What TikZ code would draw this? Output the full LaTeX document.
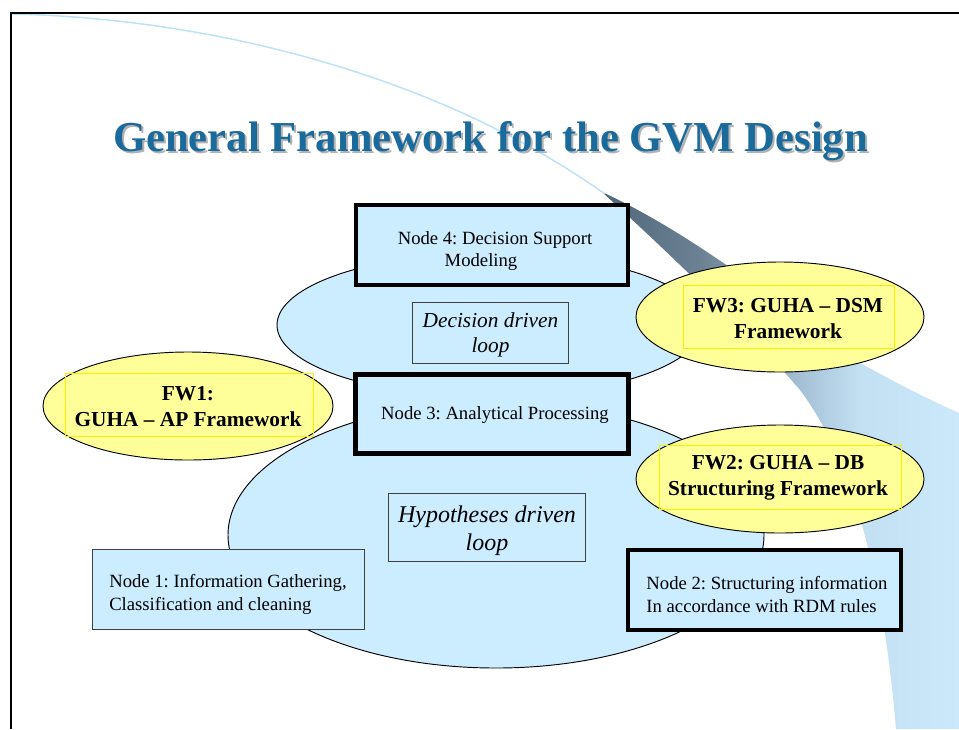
\documentclass[tikz,border=0pt]{standalone}
\usepackage{fontspec}
\setmainfont{Liberation Serif}
\usetikzlibrary{shapes.geometric}

\definecolor{paleblue}{HTML}{CCECFF}
\definecolor{paleyellow}{HTML}{FFFF99}
\definecolor{textyellow}{HTML}{F2F200}
\definecolor{titleblue}{HTML}{1B6A9C}
\definecolor{arcblue}{HTML}{BCE2F8}
\definecolor{swA}{HTML}{50667A}
\definecolor{swB}{HTML}{6C8294}
\definecolor{swC}{HTML}{A2BDD2}
\definecolor{swD}{HTML}{C3E0F3}
\definecolor{swE}{HTML}{CBE9FB}

% horizontal colour run of the background swoosh (dark at left, pale at right)
\pgfdeclarehorizontalshading{swoosh}{100bp}{color(0bp)=(swA); color(25bp)=(swA); color(39bp)=(swB); color(52bp)=(swC); color(61bp)=(swD); color(75bp)=(swE); color(100bp)=(swE)}

\tikzset{
  thinbox/.style={rectangle, draw=black!75, line width=0.75pt, fill=paleblue, inner sep=0pt},
  thickbox/.style={rectangle, draw=black, line width=3pt, fill=paleblue, inner sep=0pt},
  loopell/.style={ellipse, draw=black, line width=0.7pt, fill=paleblue, inner sep=0pt},
  fwell/.style={ellipse, draw=black, line width=0.7pt, fill=paleyellow, inner sep=0pt},
  fwframe/.style={rectangle, draw=textyellow, line width=0.6pt, inner sep=0pt},
  boxtext/.style={inner sep=0pt, align=left, font=\fontsize{14}{17.25}\selectfont},
  midtext/.style={inner sep=0pt, align=center, font=\fontsize{14}{17}\selectfont},
  looptext/.style={inner sep=0pt, align=center, font=\fontsize{16}{18.75}\selectfont\itshape},
  bigloopt/.style={inner sep=0pt, align=center, font=\fontsize{18}{21}\selectfont\itshape},
  fwtext/.style={inner sep=0pt, align=center, font=\fontsize{16}{19.5}\selectfont\bfseries},
  titletext/.style={inner sep=0pt, anchor=base, font=\fontsize{32}{38}\selectfont\bfseries}
}

\begin{document}
\frenchspacing
\begin{tikzpicture}[x=0.75pt,y=-0.75pt]
\useasboundingbox (0,0) rectangle (959,729);
\clip (0,0) rectangle (959,729);
\fill[white] (0,0) rectangle (959,729);

% background swoosh and its thin leading arc
\shade[shading=swoosh] (602,192) .. controls (700,237) and (800,320) .. (860,363)
  .. controls (900,385) and (930,400) .. (959,413) -- (959,729) -- (896,729)
  .. controls (885,600) and (860,470) .. (800,390)
  .. controls (740,320) and (660,245) .. (602,192) -- cycle;
\draw[arcblue, line width=1.1pt] (12,14) .. controls (200,18) and (430,70) .. (605,194);

% slide frame
\draw[line width=1.5pt] (11,729) -- (11,13) -- (960,13);

% title with drop shadow
\node[titletext, text=black!30] (titleshadow) at (492.5,153) {General Framework for the GVM Design};
\node[titletext, text=titleblue] (title) at (490.5,151) {General Framework for the GVM Design};

% the two loops
\node[loopell, minimum width=319.5pt, minimum height=108pt] (decloop) at (490,325) {};
\node[loopell, minimum width=402pt, minimum height=199.5pt] (hyploop) at (496,535) {};

% frameworks
\node[fwell, minimum width=217.5pt, minimum height=81pt] (fw1) at (188,406) {};
\node[fwframe, minimum width=186pt, minimum height=47.25pt] (fw1f) at (189,404.5) {};
\node[fwtext] (fw1t) at (188,406.5) {FW1:\\GUHA -- AP Framework};

\node[fwell, minimum width=216pt, minimum height=82.5pt] (fw3) at (780,317) {};
\node[fwframe, minimum width=158.25pt, minimum height=47.25pt] (fw3f) at (788.5,316.5) {};
\node[fwtext] (fw3t) at (788,318.5) {FW3: GUHA -- DSM\\Framework};

\node[fwell, minimum width=216pt, minimum height=81pt] (fw2) at (780,479) {};
\node[fwframe, minimum width=181.5pt, minimum height=48pt] (fw2f) at (780,477) {};
\node[fwtext] (fw2t) at (778,478) {FW2: GUHA -- DB\\Structuring Framework};

% processing nodes
\node[thickbox, minimum width=204pt, minimum height=60pt] (n4) at (492,245) {};
\node[midtext] (n4t) at (495,251) {Node 4: Decision Support\\Modeling\hspace*{21pt}};

\node[thinbox, minimum width=117pt, minimum height=45.75pt] (decbox) at (490.5,333) {};
\node[looptext] (dect) at (490.5,334.5) {Decision driven\\loop};

\node[thickbox, line width=3.75pt, minimum width=204.75pt, minimum height=59.25pt] (n3) at (492,414) {};
\node[midtext] (n3t) at (495,415) {Node 3: Analytical Processing};

\node[thinbox, minimum width=147.75pt, minimum height=51pt] (hypbox) at (487,527.5) {};
\node[bigloopt] (hypt) at (487,531) {Hypotheses driven\\loop};

\node[thinbox, minimum width=204pt, minimum height=60pt] (n1) at (228.5,589.5) {};
\node[boxtext] (n1t) at (228,594) {Node 1: Information Gathering,\\Classification and cleaning};

\node[thickbox, minimum width=204.75pt, minimum height=60pt] (n2) at (764.5,590) {};
\node[boxtext] (n2t) at (767,594.5) {Node 2: Structuring information\\In accordance with RDM rules};
\end{tikzpicture}
\end{document}
